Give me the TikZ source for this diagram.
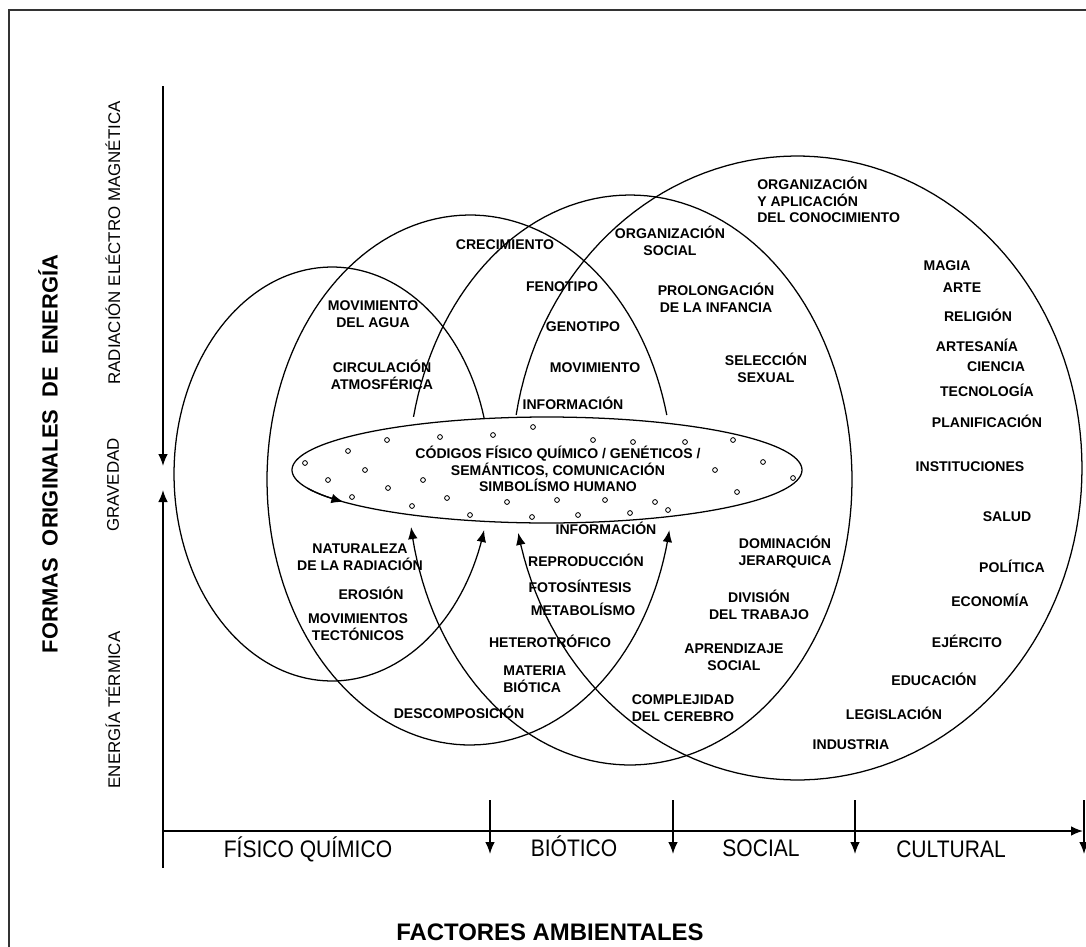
\documentclass[tikz,border=0pt]{standalone}
\usepackage{fontspec}
\setmainfont{Liberation Sans}
\newfontfamily\narrowfont{Liberation Sans}[FakeStretch=0.88]
\usetikzlibrary{arrows.meta}

\begin{document}
\begin{tikzpicture}[x=0.025cm, y=-0.025cm, >={Latex[length=3mm,width=2.4mm]}]
        % Setup the styles
        \tikzset{item/.style={font=\bfseries\fontsize{10}{11.8}\selectfont,
                              align=center, inner sep=0pt},
                 axislabel/.style={font=\narrowfont\fontsize{17}{18}\selectfont,
                                   inner sep=0pt, anchor=base},
                 energy/.style={font=\fontsize{12}{14}\selectfont,
                                rotate=90, inner sep=0pt},
                 ring/.style={line width=0.9pt},
                 axis/.style={line width=1.1pt, ->}}

        \useasboundingbox (0,0) rectangle (1086,947);
        \draw[line width=1.2pt, black!80] (9,10) rectangle (1120,980);

        % Draw the axes
        \coordinate (vtop)   at (163,86);
        \coordinate (vdown)  at (163,466);
        \coordinate (vup)    at (163,490);
        \coordinate (vbot)   at (163,868);
        \coordinate (hstart) at (163,831);
        \coordinate (hend)   at (1083,831);
        \draw[axis] (vtop) -- (vdown);
        \draw[axis] (vbot) -- (vup);
        \draw[axis] (hstart) -- (hend);
        \foreach \x in {490,673,855,1084}
            \draw[axis] (\x,800) coordinate (top\x) -- (\x,854) coordinate (tip\x);

        % Draw the rings
        \draw[ring, ->] plot[domain=-15.7:-344.3, samples=150]
            ({332+158*cos(\x)},{474+207*sin(\x)});
        \draw[ring, ->] plot[domain=-14.2:-349.1, samples=150]
            ({470+203*cos(\x)},{480+265*sin(\x)});
        \draw[ring, ->] plot[domain=192.8:530.5, samples=150]
            ({630+222*cos(\x)},{480+285*sin(\x)});
        \draw[ring, ->] plot[domain=189.8:528, samples=150]
            ({797+285*cos(\x)},{468+312*sin(\x)});

        % The codes ellipse
        \draw[ring] plot[domain=0:360, samples=150]
            ({547+255*cos(\x)},{470+53*sin(\x)});
        \draw[ring, ->] plot[domain=160:143, samples=12]
            ({547+255*cos(\x)},{470+53*sin(\x)});
        \foreach \p in {(305,463),(348,451),(387,440),(440,437),(493,435),(533,427),
                        (328,480),(365,470),(388,488),(423,480),(352,497),(412,506),
                        (447,498),(470,515),(507,502),(532,517),(557,500),(605,500),
                        (655,502),(578,515),(630,513),(668,510),(715,470),(593,440),
                        (633,442),(685,442),(733,440),(763,462),(793,478),(737,492)}
            \draw[line width=0.6pt] \p circle[radius=0.6mm];

        % Physical and chemical
        \node[item] (agua)        at (373,314) {MOVIMIENTO\\DEL AGUA};
        \node[item] (circulacion) at (382,375) {CIRCULACIÓN\\ATMOSFÉRICA};
        \node[item] (radiacion)   at (360,557) {NATURALEZA\\DE LA RADIACIÓN};
        \node[item] (erosion)     at (371,593) {EROSIÓN};
        \node[item] (tectonicos)  at (358,627) {MOVIMIENTOS\\TECTÓNICOS};
        \node[item] (descomposicion) at (459,712) {DESCOMPOSICIÓN};

        % Biotic
        \node[item] (crecimiento)  at (505,245) {CRECIMIENTO};
        \node[item] (fenotipo)     at (562,287) {FENOTIPO};
        \node[item] (genotipo)     at (583,327) {GENOTIPO};
        \node[item] (movimiento)   at (595,368) {MOVIMIENTO};
        \node[item] (infoA)        at (573,403) {INFORMACIÓN};
        \node[item] (infoB)        at (606,528) {INFORMACIÓN};
        \node[item] (reproduccion) at (586,560) {REPRODUCCIÓN};
        \node[item] (fotosintesis) at (580,586) {FOTOSÍNTESIS};
        \node[item] (metabolismo)  at (583,609) {METABOLÍSMO};
        \node[item] (heterotrofico) at (550,641) {HETEROTRÓFICO};
        \node[item, align=left, anchor=west] (materia) at (503,679) {MATERIA\\BIÓTICA};

        % Social
        \node[item] (orgsocial)   at (670,241) {ORGANIZACIÓN\\SOCIAL};
        \node[item] (infancia)    at (716,298) {PROLONGACIÓN\\DE LA INFANCIA};
        \node[item] (sexual)      at (766,368) {SELECCIÓN\\SEXUAL};
        \node[item] (dominacion)  at (785,552) {DOMINACIÓN\\JERARQUICA};
        \node[item] (division)    at (759,605) {DIVISIÓN\\DEL TRABAJO};
        \node[item] (aprendizaje) at (734,657) {APRENDIZAJE\\SOCIAL};
        \node[item] (cerebro)     at (683,708) {COMPLEJIDAD\\DEL CEREBRO};

        % Cultural
        \node[item, align=left, anchor=west] (conocimiento) at (757,200)
            {ORGANIZACIÓN\\Y APLICACIÓN\\DEL CONOCIMIENTO};
        \node[item] (magia)         at (947,266) {MAGIA};
        \node[item] (arte)          at (962,288) {ARTE};
        \node[item] (religion)      at (978,315) {RELIGIÓN};
        \node[item] (artesania)     at (977,345) {ARTESANÍA};
        \node[item] (ciencia)       at (996,367) {CIENCIA};
        \node[item] (tecnologia)    at (987,390) {TECNOLOGÍA};
        \node[item] (planificacion) at (987,421) {PLANIFICACIÓN};
        \node[item] (instituciones) at (970,467) {INSTITUCIONES};
        \node[item] (salud)         at (1007,517) {SALUD};
        \node[item] (politica)      at (1012,566) {POLÍTICA};
        \node[item] (economia)      at (990,600) {ECONOMÍA};
        \node[item] (ejercito)      at (967,641) {EJÉRCITO};
        \node[item] (educacion)     at (934,679) {EDUCACIÓN};
        \node[item] (legislacion)   at (894,713) {LEGISLACIÓN};
        \node[item] (industria)     at (851,745) {INDUSTRIA};

        % Codes
        \node[item] (codigos) at (558,469)
            {CÓDIGOS FÍSICO QUÍMICO / GENÉTICOS /\\SEMÁNTICOS, COMUNICACIÓN\\SIMBOLÍSMO HUMANO};

        % Axis labels
        \node[axislabel] (fisico)   at (308,857) {FÍSICO QUÍMICO};
        \node[axislabel] (biotico)  at (574,856) {BIÓTICO};
        \node[axislabel] (social)   at (761,856) {SOCIAL};
        \node[axislabel] (cultural) at (951,857) {CULTURAL};
        \node[font=\bfseries\fontsize{17}{20}\selectfont] (factores) at (550,932)
            {FACTORES AMBIENTALES};

        \node[energy] (electro)  at (113,243) {RADIACIÓN ELÉCTRO MAGNÉTICA};
        \node[energy] (gravedad) at (113,485) {GRAVEDAD};
        \node[energy] (termica)  at (113,710) {ENERGÍA TÉRMICA};
        \node[rotate=90, font=\bfseries\fontsize{15.6}{18}\selectfont] (formas) at (48,454)
            {FORMAS\ \ ORIGINALES\ \ DE\ \ ENERGÍA};
\end{tikzpicture}
\end{document}
